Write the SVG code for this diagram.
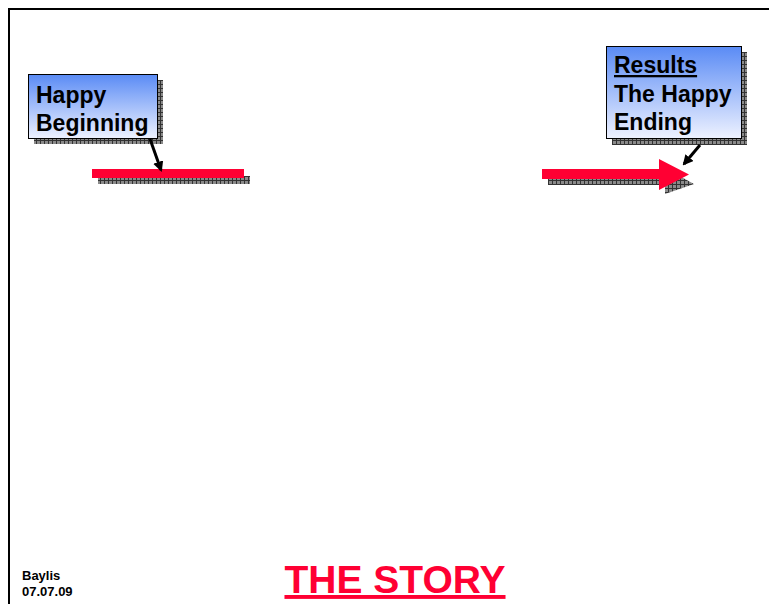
<svg xmlns="http://www.w3.org/2000/svg" width="769" height="604" viewBox="0 0 769 604">
<style>
.lbl{font-family:"Liberation Sans",Arial,sans-serif;font-weight:bold;font-size:23px;fill:#000}
.box{stroke:#000;stroke-width:1;fill:url(#grad)}
.sh{fill:url(#grid)}
.red{fill:#FF0033}
.conn{stroke:#000;stroke-width:3;fill:none;marker-end:url(#ah)}
.ft{font-family:"Liberation Sans",Arial,sans-serif;font-weight:bold;font-size:13px}
</style>
<defs>
<linearGradient id="grad" x1="0" y1="0" x2="0" y2="1">
<stop offset="0" stop-color="#5A8BF5"/>
<stop offset="1" stop-color="#EEF2FF"/>
</linearGradient>
<pattern id="grid" width="4" height="4" patternUnits="userSpaceOnUse">
<rect width="4" height="4" fill="#8a8a8a"/>
<path d="M0 0.5H4M0.5 0V4" stroke="#333" stroke-width="1"/>
</pattern>
<marker id="ah" viewBox="0 0 10 10" refX="8" refY="5" markerWidth="3.5" markerHeight="3.5" orient="auto" markerUnits="strokeWidth">
<path d="M0 0L10 5L0 10z" fill="#000"/>
</marker>
</defs>
<rect width="769" height="604" fill="#fff"/>
<path d="M9 604V9H769" stroke="#000" stroke-width="2" fill="none"/>
<g id="happy-beginning">
<rect class="sh" x="34" y="80" width="129" height="64"/>
<rect class="box" x="28.5" y="74.5" width="129" height="64"/>
<text class="lbl" x="36" y="103">Happy</text>
<text class="lbl" x="36" y="131">Beginning</text>
</g>
<g id="start-bar">
<rect class="sh" x="98" y="176" width="152" height="8"/>
<rect class="red" x="92" y="169" width="152" height="9"/>
</g>
<g id="results">
<rect class="sh" x="612" y="52" width="135" height="93"/>
<rect class="box" x="606.5" y="46.5" width="135" height="92"/>
<text class="lbl" x="614" y="73" text-decoration="underline">Results</text>
<text class="lbl" x="614" y="102">The Happy</text>
<text class="lbl" x="614" y="130">Ending</text>
</g>
<g id="end-arrow">
<path class="sh" d="M548 178H665V168L694 184L665 194V185H548z"/>
<path class="red" d="M542 169H659V159L689 174.5L659 190V179H542z"/>
</g>
<g id="connectors">
<line class="conn" x1="150" y1="139" x2="161" y2="170"/>
<line class="conn" x1="700" y1="145" x2="684" y2="164"/>
</g>
<g id="footer">
<text class="ft" x="22" y="580">Baylis</text>
<text class="ft" x="22" y="596">07.07.09</text>
<text x="395" y="593" text-anchor="middle" text-decoration="underline" style="font-family:'Liberation Sans',Arial,sans-serif;font-weight:bold;font-size:39px;fill:#FF0033">THE STORY</text>
</g>
</svg>
